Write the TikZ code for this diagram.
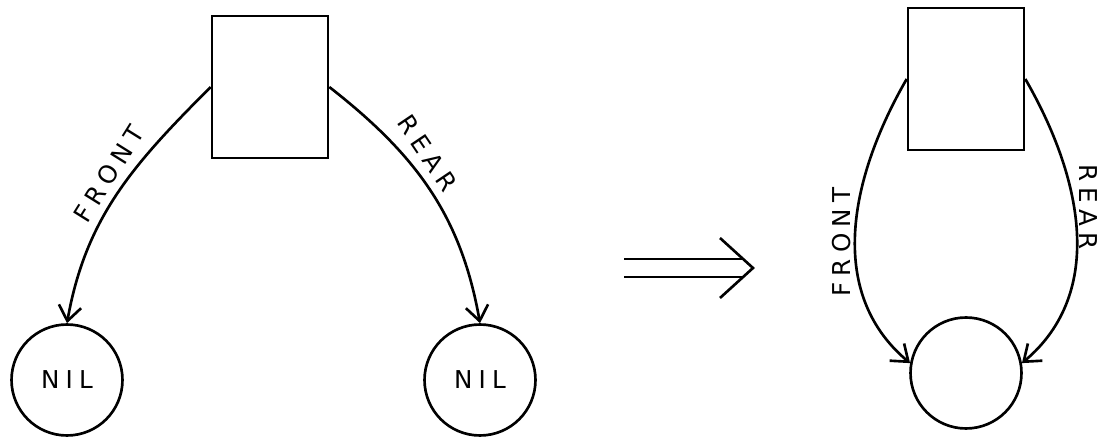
\documentclass[tikz,border=0pt]{standalone}
\usepackage{tikz}
\usepackage{fontspec}
\setsansfont{DejaVu Sans}[LetterSpace=25]
\usetikzlibrary{arrows.meta, positioning, calc}

\begin{document}
\begin{tikzpicture}[
    x=0.02cm, y=0.02cm,
    every node/.style={font=\sffamily\fontsize{14}{16}\selectfont},
    box/.style={draw, line width=1.5pt, minimum width=2.32cm, minimum height=2.84cm},
    cell/.style={draw, circle, line width=1.5pt, minimum size=2.22cm, inner sep=0pt},
    arrow/.style={-{Straight Barb[length=3mm, width=4.5mm]}, line width=1.5pt},
    thickline/.style={line width=1.5pt}
  ]
    \useasboundingbox (0,0) rectangle (1099,439);

    % before
    \node[box]  (b1) at (270,352) {};
    \node[cell] (n1) at (67,59)  {NIL};
    \node[cell] (n2) at (480,59) {NIL};

    \draw[arrow] (b1.west) to[out=225, in=80] (n1.north);
    \draw[arrow] (b1.east) to[out=-38, in=100] (n2.north);

    \node[rotate=58]  (f1) at (109,265) {FRONT};
    \node[rotate=-56] (r1) at (428,286) {REAR};

    % implies sign
    \coordinate (imp1) at (624,171);
    \coordinate (imp2) at (753,171);
    \draw[thickline] ([yshift=0.18cm]imp1) -- ([yshift=0.18cm, xshift=-0.2cm]imp2);
    \draw[thickline] ([yshift=-0.18cm]imp1) -- ([yshift=-0.18cm, xshift=-0.2cm]imp2);
    \draw[thickline] ([xshift=-0.66cm, yshift=0.6cm]imp2) -- (imp2) -- ([xshift=-0.66cm, yshift=-0.6cm]imp2);

    % after
    \node[box]  (b2) at (966,360) {};
    \node[cell] (c2) at (966,66)  {};

    \draw[arrow] (b2.west) to[out=240, in=140] (c2.170);
    \draw[arrow] (b2.east) to[out=-60, in=40] (c2.10);

    \node[rotate=90]  (f2) at (842,197) {FRONT};
    \node[rotate=-90] (r2) at (1088,232) {REAR};

  \end{tikzpicture}
\end{document}
